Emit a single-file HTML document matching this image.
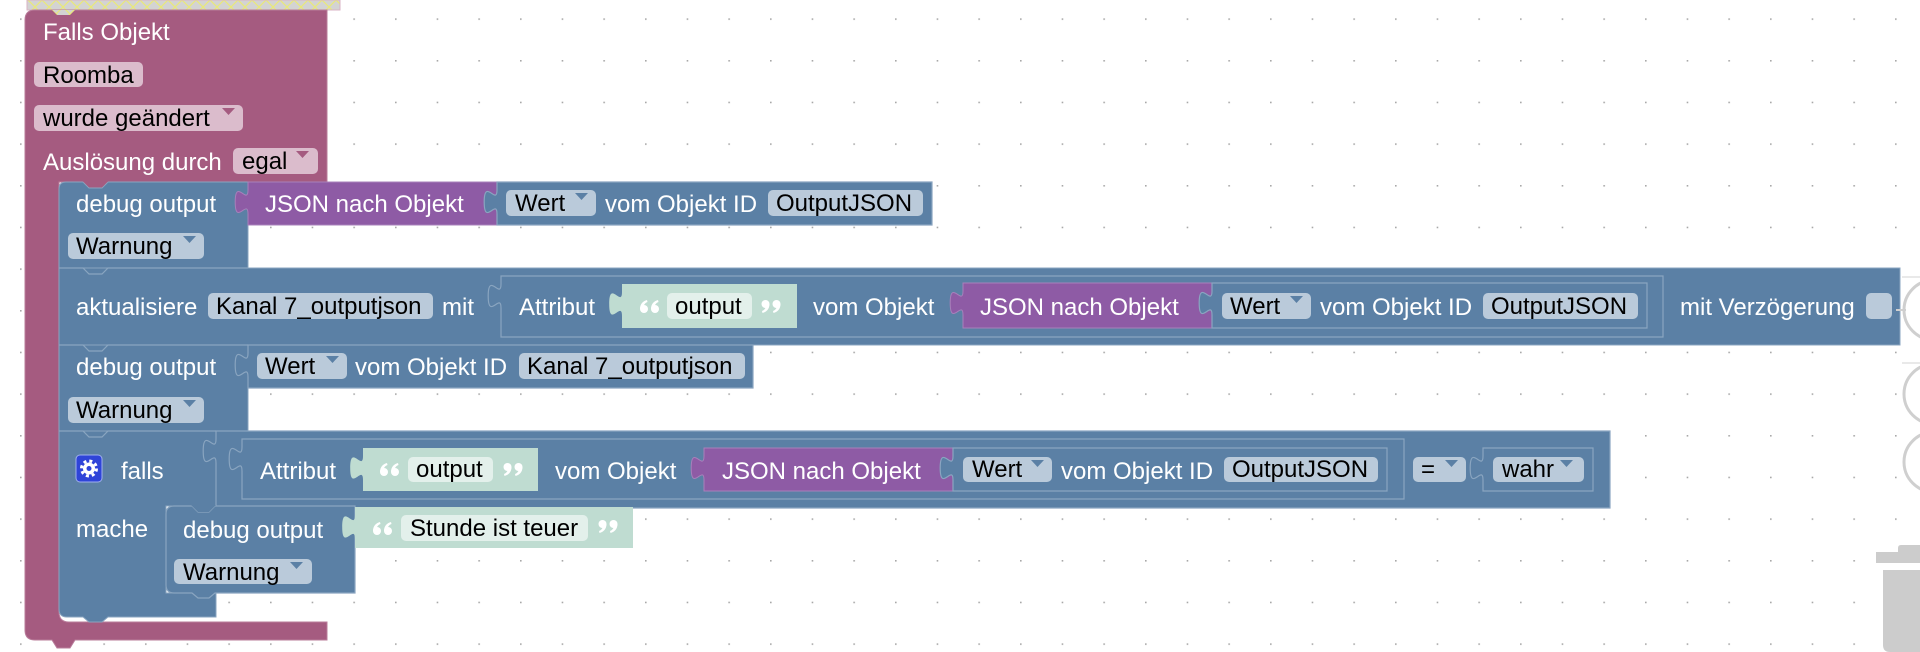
<!DOCTYPE html>
<html><head><meta charset="utf-8"><style>
html,body{margin:0;padding:0;background:#fff;width:1920px;height:652px;overflow:hidden}
svg{display:block}
text{font-family:"Liberation Sans",Arial,sans-serif;font-size:24px}
.w{fill:#fff}.k{fill:#000}
</style></head><body>
<svg width="1920" height="652" viewBox="0 0 1920 652" xmlns="http://www.w3.org/2000/svg">
<defs>
<pattern id="grid" x="20" y="18.33" width="41.667" height="41.667" patternUnits="userSpaceOnUse"><rect x="0" y="0" width="1.6" height="1.6" fill="#a8a8a8"/></pattern>
<pattern id="hatch" x="0" y="0" width="14" height="14" patternUnits="userSpaceOnUse"><rect width="14" height="14" fill="#d3d3d3"/><path d="M0,0 L14,14 M14,0 L0,14" stroke="#e8e87a" stroke-width="1.3"/></pattern>
<g id="oq"><circle cx="0" cy="0" r="4" fill="#fff"/><path d="M-4,0 C-4,-5 -1,-8 3,-9 L3.5,-7 C1,-6 -0.5,-4 0,-2 Z" fill="#fff"/></g>
</defs>
<rect width="1920" height="652" fill="#fff"/>
<rect width="1920" height="652" fill="url(#grid)"/>

<!-- grey hatched block on top -->
<path d="M27,0 H340 V10 H75 L70,15 H57 L52,10 H27 Z" fill="url(#hatch)" stroke="#d9b3c6" stroke-width="1"/>

<!-- pink event block -->
<path d="M35,10 H327 V182 H59 V612 Q59,622 69,622 H327 V640 H75 L70,648 H57 L52,640 H35 Q25,640 25,630 V20 Q25,10 35,10 Z" fill="#a55b80" stroke="#b97c9a" stroke-width="1"/>
<path d="M52,10 L57,15 H70 L75,10" fill="url(#hatch)"/>
<text x="43" y="40" class="w">Falls Objekt</text>
<rect x="34" y="62" width="109" height="25" rx="5" fill="#dbbccc"/><text x="43" y="83" class="k">Roomba</text>
<rect x="34" y="105" width="209" height="26" rx="5" fill="#dbbccc"/><text x="43" y="126" class="k">wurde geändert</text>
<polygon points="222,108 235,108 228.5,115" fill="#a55b80"/>
<text x="43" y="170" class="w">Auslösung durch</text>
<rect x="233" y="148" width="85" height="26" rx="5" fill="#dbbccc"/><text x="242" y="169" class="k">egal</text>
<polygon points="296,151 309,151 302.5,158" fill="#a55b80"/>

<!-- statement blocks (blue) -->
<path d="M66,182 H83 L89,188 H102 L108,182 H248 V268 H59 V189 Q59,182 66,182 Z" fill="#5b80a5" stroke="#8aa5c0" stroke-width="1"/>
<path d="M83,181.5 L89,187.5 H102 L108,181.5 Z" fill="#a55b80"/>
<rect x="59" y="268" width="1841" height="77" fill="#5b80a5" stroke="#8aa5c0" stroke-width="1"/>
<rect x="59" y="345" width="189" height="86" fill="#5b80a5" stroke="#8aa5c0" stroke-width="1"/>
<path d="M59,431 H216 V506 H166 V593 H216 V617 H108 L102,622 H89 L83,617 H67 Q59,617 59,609 Z" fill="#5b80a5" stroke="#8aa5c0" stroke-width="1"/>
<!-- separators with notches -->
<path d="M59,268 H83 L89,274 H102 L108,268 H248" fill="none" stroke="#8aa5c0" stroke-width="1.2"/>
<path d="M59,345 H83 L89,351 H102 L108,345 H248" fill="none" stroke="#8aa5c0" stroke-width="1.2"/>
<path d="M59,431 H83 L89,437 H102 L108,431 H216" fill="none" stroke="#8aa5c0" stroke-width="1.2"/>

<!-- Debug 1 -->
<text x="76" y="212" class="w">debug output</text>
<rect x="68" y="233" width="136" height="26" rx="5" fill="#bacada"/><text x="76" y="254" class="k">Warnung</text>
<polygon points="183,236 196,236 189.5,243" fill="#5b80a5"/>
<path d="M248,190 c0,16 -12.8,-12.8 -12.8,12 s12.8,-4 12.8,12 V225 H497 V182 H248 Z" fill="#8e5ba5" stroke="#a880bb" stroke-width="1"/>
<text x="265" y="212" class="w">JSON nach Objekt</text>
<path d="M497,190 c0,16 -12.8,-12.8 -12.8,12 s12.8,-4 12.8,12 V225 H932 V182 H497 Z" fill="#5b80a5" stroke="#8aa5c0" stroke-width="1.2"/>
<rect x="506" y="190" width="90" height="26" rx="5" fill="#bacada"/><text x="515" y="211" class="k">Wert</text>
<polygon points="575,193 588,193 581.5,200" fill="#5b80a5"/>
<text x="605" y="212" class="w">vom Objekt ID</text>
<rect x="768" y="190" width="155" height="26" rx="5" fill="#bacada"/><text x="776" y="211" class="k">OutputJSON</text>

<!-- aktualisiere -->
<text x="76" y="315" class="w">aktualisiere</text>
<rect x="208" y="293" width="225" height="26" rx="5" fill="#bacada"/><text x="216" y="314" class="k">Kanal 7_outputjson</text>
<text x="442" y="315" class="w">mit</text>
<path d="M501,284 c0,16 -12.8,-12.8 -12.8,12 s12.8,-4 12.8,12 V337 H1663 V276 H501 Z" fill="#5b80a5" stroke="#8aa5c0" stroke-width="1.2"/>
<text x="519" y="315" class="w">Attribut</text>
<path d="M622,292 c0,16 -12.8,-12.8 -12.8,12 s12.8,-4 12.8,12 V328 H797 V284 H622 Z" fill="#bfdcd1"/>
<use href="#oq" x="644" y="309"/><use href="#oq" x="655" y="309"/>
<rect x="667" y="293" width="85" height="26" rx="5" fill="#e3f0eb"/><text x="675" y="314" class="k">output</text>
<use href="#oq" transform="rotate(180 770 306.5)" x="774.5" y="309"/><use href="#oq" transform="rotate(180 770 306.5)" x="763.5" y="309"/>
<text x="813" y="315" class="w">vom Objekt</text>
<path d="M963,291 c0,16 -12.8,-12.8 -12.8,12 s12.8,-4 12.8,12 V328 H1212 V283 H963 Z" fill="#8e5ba5" stroke="#a880bb" stroke-width="1"/>
<text x="980" y="315" class="w">JSON nach Objekt</text>
<path d="M1212,291 c0,16 -12.8,-12.8 -12.8,12 s12.8,-4 12.8,12 V328 H1647 V283 H1212 Z" fill="#5b80a5" stroke="#8aa5c0" stroke-width="1.2"/>
<rect x="1222" y="293" width="89" height="26" rx="5" fill="#bacada"/><text x="1230" y="314" class="k">Wert</text>
<polygon points="1290,296 1303,296 1296.5,303" fill="#5b80a5"/>
<text x="1320" y="315" class="w">vom Objekt ID</text>
<rect x="1483" y="293" width="155" height="26" rx="5" fill="#bacada"/><text x="1491" y="314" class="k">OutputJSON</text>
<text x="1680" y="315" class="w">mit Verzögerung</text>
<rect x="1866" y="293" width="26" height="26" rx="5" fill="#bacada"/>

<!-- debug 3 -->
<text x="76" y="375" class="w">debug output</text>
<path d="M248,353 c0,16 -12.8,-12.8 -12.8,12 s12.8,-4 12.8,12 V388 H753 V345 H248 Z" fill="#5b80a5" stroke="#8aa5c0" stroke-width="1.2"/>
<rect x="257" y="353" width="90" height="26" rx="5" fill="#bacada"/><text x="265" y="374" class="k">Wert</text>
<polygon points="326,356 339,356 332.5,363" fill="#5b80a5"/>
<text x="355" y="375" class="w">vom Objekt ID</text>
<rect x="519" y="353" width="226" height="26" rx="5" fill="#bacada"/><text x="527" y="374" class="k">Kanal 7_outputjson</text>
<rect x="68" y="397" width="136" height="26" rx="5" fill="#bacada"/><text x="76" y="418" class="k">Warnung</text>
<polygon points="183,400 196,400 189.5,407" fill="#5b80a5"/>

<!-- if block -->
<rect x="76" y="455" width="26" height="27" rx="4" fill="#2f44d8" stroke="#9fb0ee" stroke-width="1"/>
<circle cx="89" cy="468.5" r="7.5" fill="none" stroke="#fff" stroke-width="3" stroke-dasharray="3 2.9"/>
<circle cx="89" cy="468.5" r="6" fill="#fff"/><circle cx="89" cy="468.5" r="2.5" fill="#2f44d8"/>
<text x="121" y="479" class="w">falls</text>
<path d="M216,439 c0,16 -12.8,-12.8 -12.8,12 s12.8,-4 12.8,12 V508 H1610 V431 H216 Z" fill="#5b80a5" stroke="#8aa5c0" stroke-width="1.2"/>
<path d="M242,447 c0,16 -12.8,-12.8 -12.8,12 s12.8,-4 12.8,12 V499 H1404 V439 H242 Z" fill="#5b80a5" stroke="#8aa5c0" stroke-width="1.2"/>
<text x="260" y="479" class="w">Attribut</text>
<path d="M363,456 c0,16 -12.8,-12.8 -12.8,12 s12.8,-4 12.8,12 V491 H538 V448 H363 Z" fill="#bfdcd1"/>
<use href="#oq" x="384" y="472"/><use href="#oq" x="395" y="472"/>
<rect x="408" y="457" width="85" height="25" rx="5" fill="#e3f0eb"/><text x="416" y="477" class="k">output</text>
<use href="#oq" transform="rotate(180 512 469.5)" x="516.5" y="472"/><use href="#oq" transform="rotate(180 512 469.5)" x="505.5" y="472"/>
<text x="555" y="479" class="w">vom Objekt</text>
<path d="M704,456 c0,16 -12.8,-12.8 -12.8,12 s12.8,-4 12.8,12 V491 H953 V448 H704 Z" fill="#8e5ba5" stroke="#a880bb" stroke-width="1"/>
<text x="722" y="479" class="w">JSON nach Objekt</text>
<path d="M953,456 c0,16 -12.8,-12.8 -12.8,12 s12.8,-4 12.8,12 V491 H1387 V448 H953 Z" fill="#5b80a5" stroke="#8aa5c0" stroke-width="1.2"/>
<rect x="963" y="457" width="89" height="25" rx="5" fill="#bacada"/><text x="972" y="477" class="k">Wert</text>
<polygon points="1031,460 1044,460 1037.5,467" fill="#5b80a5"/>
<text x="1061" y="479" class="w">vom Objekt ID</text>
<rect x="1224" y="457" width="154" height="25" rx="5" fill="#bacada"/><text x="1232" y="477" class="k">OutputJSON</text>
<rect x="1413" y="457" width="53" height="25" rx="5" fill="#bacada"/><text x="1421" y="477" class="k">=</text>
<polygon points="1445,460 1458,460 1451.5,467" fill="#5b80a5"/>
<path d="M1483,456 c0,16 -12.8,-12.8 -12.8,12 s12.8,-4 12.8,12 V491 H1593 V448 H1483 Z" fill="#5b80a5" stroke="#8aa5c0" stroke-width="1.2"/>
<rect x="1493" y="457" width="91" height="25" rx="5" fill="#bacada"/><text x="1502" y="477" class="k">wahr</text>
<polygon points="1560,460 1573,460 1566.5,467" fill="#5b80a5"/>

<!-- mache -->
<text x="76" y="537" class="w">mache</text>
<path d="M174,506 H192 L198,512 H209 L215,506 H355 V593 H215 L209,598 H198 L192,593 H174 Q166,593 166,585 V514 Q166,506 174,506 Z" fill="#5b80a5" stroke="#8aa5c0" stroke-width="1.2"/>
<path d="M191,505 L198,512 H209 L216,505 Z" fill="#5b80a5"/>
<text x="183" y="538" class="w">debug output</text>
<path d="M355,515 c0,16 -12.8,-12.8 -12.8,12 s12.8,-4 12.8,12 V548 H633 V507 H355 Z" fill="#bfdcd1"/>
<use href="#oq" x="377" y="531"/><use href="#oq" x="388" y="531"/>
<rect x="401" y="515" width="187" height="26" rx="5" fill="#e3f0eb"/><text x="410" y="536" class="k">Stunde ist teuer</text>
<use href="#oq" transform="rotate(180 607 527.5)" x="611.5" y="531"/><use href="#oq" transform="rotate(180 607 527.5)" x="600.5" y="531"/>
<rect x="174" y="559" width="138" height="25" rx="5" fill="#bacada"/><text x="183" y="580" class="k">Warnung</text>
<polygon points="290,562 303,562 296.5,569" fill="#5b80a5"/>

<!-- right side controls -->
<line x1="1902" y1="277" x2="1920" y2="277" stroke="#e2e2e2" stroke-width="1.5"/>
<circle cx="1934" cy="310" r="30" fill="#fff" stroke="#cfcfcf" stroke-width="3"/>
<line x1="1896" y1="310" x2="1906" y2="310" stroke="#cfcfcf" stroke-width="2"/>
<line x1="1902" y1="363" x2="1920" y2="363" stroke="#e2e2e2" stroke-width="1.5"/>
<circle cx="1934" cy="394" r="30" fill="#fff" stroke="#cfcfcf" stroke-width="3"/>
<circle cx="1934" cy="462" r="30" fill="#fff" stroke="#cfcfcf" stroke-width="3"/>
<!-- trash -->
<path d="M1898,552 V548 Q1898,545 1901,545 H1920 V552 Z" fill="#cccccc"/>
<rect x="1876" y="552" width="44" height="11" fill="#cccccc"/>
<path d="M1883,570 H1920 V652 H1890 Q1883,652 1883,645 Z" fill="#cccccc"/>
</svg>
</body></html>
